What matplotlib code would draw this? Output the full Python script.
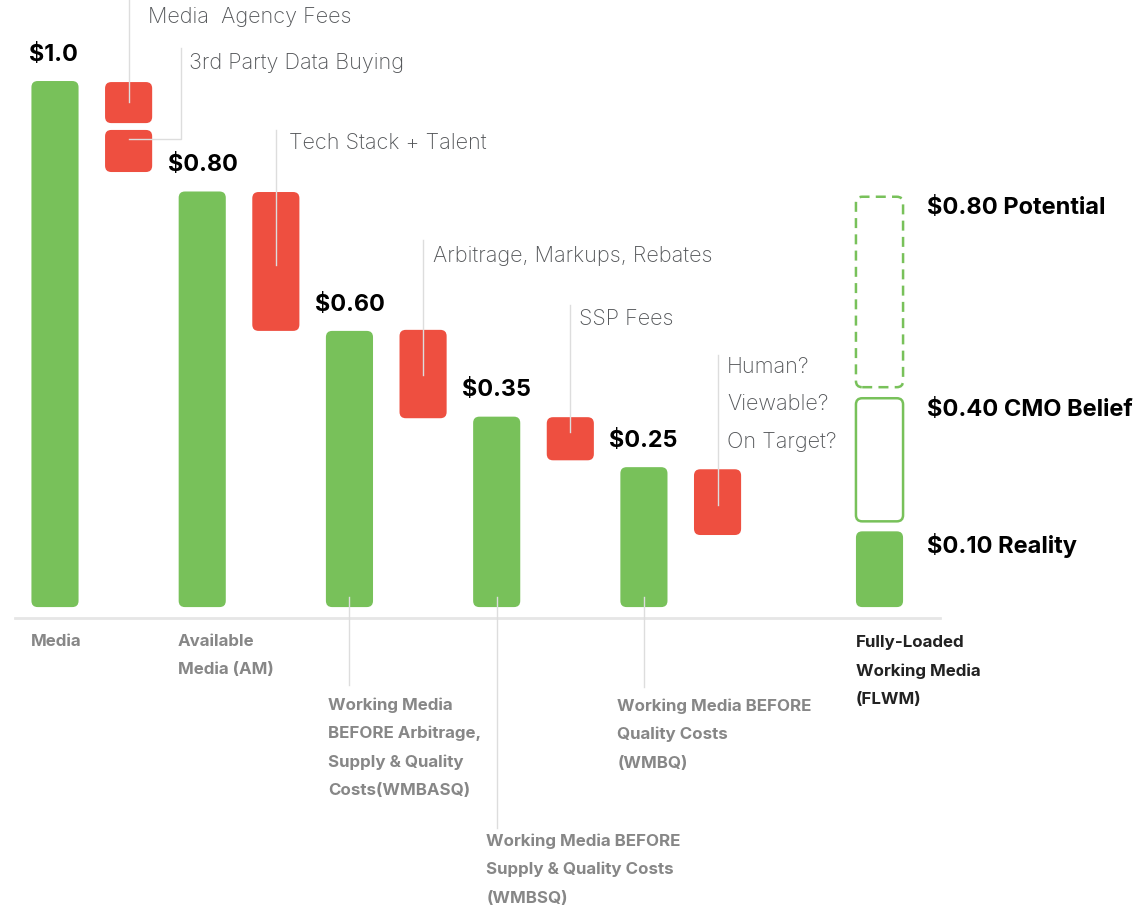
import matplotlib
matplotlib.use("Agg")
from matplotlib import pyplot as plt
from matplotlib.patches import FancyBboxPatch

plt.rcParams['font.family'] = ['Inter', 'DejaVu Sans']

# green "remaining media" bars, heights as drawn (Media = 1.0)
total_labels = ["$1.0", "$0.80", "$0.60", "$0.35", "$0.25"]
total_heights = [1.0, 0.79, 0.525, 0.362, 0.266]
total_names = [["Media"],
               ["Available", "Media (AM)"],
               ["Working Media", "BEFORE Arbitrage,", "Supply & Quality", "Costs(WMBASQ)"],
               ["Working Media BEFORE", "Supply & Quality Costs", "(WMBSQ)"],
               ["Working Media BEFORE", "Quality Costs", "(WMBQ)"]]

# red cost bars (top, bottom)
cost_names = ["Media  Agency Fees", "3rd Party Data Buying", "Tech Stack + Talent",
              "Arbitrage, Markups, Rebates", "SSP Fees", "Human?\nViewable?\nOn Target?"]
cost_tops = [0.998, 0.907, 0.789, 0.527, 0.361, 0.262]
cost_bottoms = [0.92, 0.827, 0.525, 0.359, 0.279, 0.137]

# final column: potential / CMO belief / reality
final_labels = ["$0.80 Potential", "$0.40 CMO Belief", "$0.10 Reality"]
final_tops = [0.78, 0.397, 0.144]
final_bottoms = [0.418, 0.163, 0.0]
final_name = ["Fully-Loaded", "Working Media", "(FLWM)"]

GREEN = '#78c15a'
RED = '#ee4f40'
GREY = '#878787'
LINE = '#dddddd'

total_x = [0, 2, 4, 6, 8]
cost_x = [1, 1, 3, 5, 7, 9]
final_x = 11.2
width = 0.64

fig = plt.figure(figsize=(11.46, 9.08), dpi=100)
ax = fig.add_axes([0, 0, 1, 1])
ax.set_xlim(-0.747, 14.82)
ax.set_ylim(-0.572, 1.154)
ax.axis('off')

# keeps corner radius round despite different x/y scales
aspect = 73.6 / 526.0


def bar(x, bottom, top, face, edge=None, ls='-', lw=0):
    p = FancyBboxPatch((x - width / 2, bottom), width, top - bottom,
                       boxstyle="round,pad=0,rounding_size=0.085",
                       mutation_aspect=aspect, facecolor=face,
                       edgecolor=edge if edge else face, linestyle=ls,
                       linewidth=lw, zorder=2)
    ax.add_patch(p)


def lines_of_text(x, y, lines, color, size=12.2, step=0.0542):
    for i, s in enumerate(lines):
        ax.text(x, y - i * step, s, color=color, fontsize=size,
                fontweight='bold', ha='left', va='center')


# baseline
ax.plot([-0.54, 12.02], [-0.021, -0.021], color='#e6e6e6', lw=2, zorder=1)

label_shift = [0.03, 0.15, 0.15, 0.15, 0.15]
for x, h, lab, dx in zip(total_x, total_heights, total_labels, label_shift):
    bar(x, 0, h, GREEN)
    ax.text(x - width / 2 - dx, h + 0.05, lab, fontsize=16.8, fontweight='bold',
            color='black', ha='left', va='center')

for x, t, b in zip(cost_x, cost_tops, cost_bottoms):
    bar(x, b, t, RED)

# annotation leaders for costs
ann = dict(fontsize=15.6, color='#545659', va='center', fontweight='light')
ax.plot([1, 1], [1.154, 0.96], color=LINE, lw=1, zorder=3)
ax.text(1.27, 1.122, cost_names[0], **ann)
ax.plot([1.71, 1.71, 1.0], [1.063, 0.89, 0.89], color=LINE, lw=1, zorder=3)
ax.text(1.82, 1.034, cost_names[1], **ann)
ax.plot([3, 3], [0.907, 0.65], color=LINE, lw=1, zorder=3)
ax.text(3.18, 0.882, cost_names[2], **ann)
ax.plot([5, 5], [0.698, 0.441], color=LINE, lw=1, zorder=3)
ax.text(5.14, 0.667, cost_names[3], **ann)
ax.plot([7, 7], [0.574, 0.333], color=LINE, lw=1, zorder=3)
ax.text(7.12, 0.548, cost_names[4], **ann)
ax.plot([9, 9], [0.479, 0.194], color=LINE, lw=1, zorder=3)
for i, s in enumerate(cost_names[5].split('\n')):
    ax.text(9.13, 0.457 - i * 0.0713, s, **ann)

# category labels under the baseline
lines_of_text(-0.33, -0.065, total_names[0], GREY)
lines_of_text(1.67, -0.065, total_names[1], GREY)
ax.plot([4, 4], [0.02, -0.148], color=LINE, lw=1, zorder=3)
lines_of_text(3.71, -0.186, total_names[2], GREY)
ax.plot([6, 6], [0.02, -0.42], color=LINE, lw=1, zorder=3)
lines_of_text(5.86, -0.445, total_names[3], GREY)
ax.plot([8, 8], [0.02, -0.152], color=LINE, lw=1, zorder=3)
lines_of_text(7.64, -0.188, total_names[4], GREY)
lines_of_text(10.88, -0.068, final_name, '#222222')

# final column
bar(final_x, final_bottoms[0], final_tops[0], 'none', edge=GREEN, ls=(0, (4, 2.5)), lw=1.8)
bar(final_x, final_bottoms[1], final_tops[1], 'none', edge=GREEN, lw=1.8)
bar(final_x, final_bottoms[2], final_tops[2], GREEN)
for t, lab, dy in zip(final_tops, final_labels, [0.021, 0.023, 0.027]):
    ax.text(11.85, t - dy, lab, fontsize=17, fontweight='bold', color='black',
            ha='left', va='center')

fig.savefig('out.png', dpi=100, facecolor='white')
